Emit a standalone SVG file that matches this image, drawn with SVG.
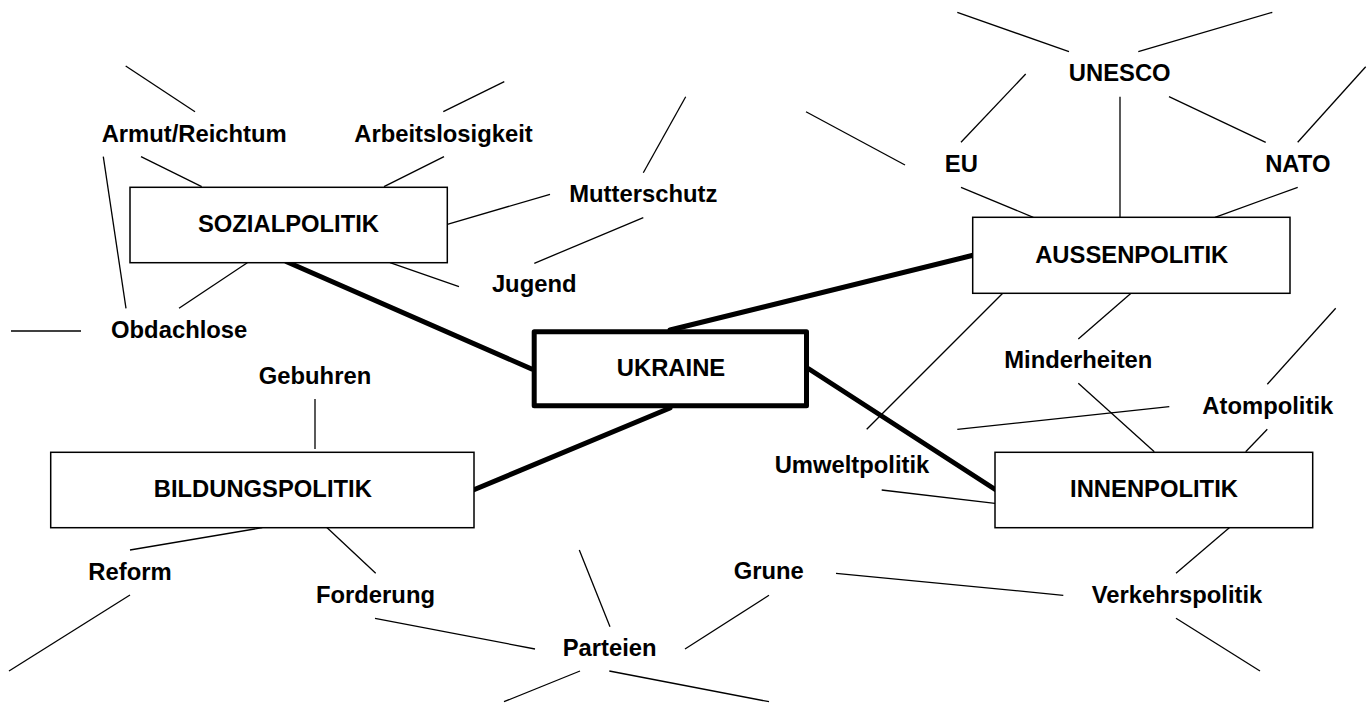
<svg xmlns="http://www.w3.org/2000/svg" width="1371" height="703" viewBox="0 0 1371 703">
  <style>
    .bg { fill: #ffffff; }
    .box { fill: #ffffff; stroke: #000000; stroke-width: 1.5; }
    .core { fill: #ffffff; stroke: #000000; stroke-width: 5; stroke-linejoin: round; }
    .lbl { font-family: "Liberation Sans", Arial, Helvetica, sans-serif; font-weight: bold; font-size: 23.8px; fill: #000000; text-anchor: middle; }
    .thin { stroke: #000000; stroke-width: 1.3; fill: none; }
    .thick { stroke: #000000; stroke-width: 5; stroke-linecap: round; fill: none; }
  </style>
  <rect class="bg" x="0" y="0" width="1371" height="703"/>

  <!-- connectors -->
  <g id="connectors">
    <!-- main spokes from the centre -->
    <line class="thick" x1="286.7" y1="261.7" x2="531.7" y2="369"/>
    <line class="thick" x1="670" y1="330" x2="974" y2="255"/>
    <line class="thick" x1="670" y1="408" x2="473.3" y2="490"/>
    <line class="thick" x1="809" y1="369" x2="996" y2="490"/>

    <!-- Sozialpolitik branch -->
    <line class="thin" x1="125.7" y1="66" x2="195" y2="111.7"/>
    <line class="thin" x1="141" y1="156.7" x2="201.7" y2="186.7"/>
    <line class="thin" x1="103.3" y1="156.7" x2="126" y2="308.3"/>
    <line class="thin" x1="443.3" y1="111.7" x2="504.3" y2="81.7"/>
    <line class="thin" x1="384" y1="186.7" x2="444" y2="156.7"/>
    <line class="thin" x1="247.3" y1="262.7" x2="179" y2="308.3"/>
    <line class="thin" x1="390" y1="262.7" x2="459" y2="286.7"/>
    <line class="thin" x1="447.3" y1="224.3" x2="550" y2="194.3"/>
    <line class="thin" x1="11" y1="331" x2="81" y2="331"/>
    <line class="thin" x1="643.3" y1="172.7" x2="685.7" y2="96.7"/>
    <line class="thin" x1="643.3" y1="217.7" x2="534.3" y2="263.3"/>

    <!-- Aussenpolitik branch -->
    <line class="thin" x1="806" y1="111.7" x2="905" y2="165"/>
    <line class="thin" x1="957.3" y1="12.3" x2="1069" y2="51.7"/>
    <line class="thin" x1="1138.3" y1="51.7" x2="1272.3" y2="12.3"/>
    <line class="thin" x1="1025.7" y1="74" x2="961" y2="142.3"/>
    <line class="thin" x1="1120" y1="96.7" x2="1120" y2="219"/>
    <line class="thin" x1="1169" y1="96.7" x2="1265.7" y2="142.3"/>
    <line class="thin" x1="1297.7" y1="142.3" x2="1365.7" y2="66.7"/>
    <line class="thin" x1="961" y1="187.3" x2="1033.3" y2="217.3"/>
    <line class="thin" x1="1297.7" y1="187.3" x2="1215" y2="217.3"/>
    <line class="thin" x1="1002.7" y1="293.3" x2="866.7" y2="429.3"/>
    <line class="thin" x1="1131" y1="293.3" x2="1078.3" y2="339"/>

    <!-- Innenpolitik branch -->
    <line class="thin" x1="1078.3" y1="383.3" x2="1154.3" y2="451.7"/>
    <line class="thin" x1="1267.3" y1="384.3" x2="1335.7" y2="308.3"/>
    <line class="thin" x1="1169.3" y1="406.7" x2="957.3" y2="429.3"/>
    <line class="thin" x1="1267.3" y1="429.3" x2="1245.7" y2="451.7"/>
    <line class="thin" x1="881.7" y1="490" x2="995" y2="503.3"/>
    <line class="thin" x1="1229.3" y1="527.7" x2="1176" y2="573.3"/>
    <line class="thin" x1="1176" y1="618.3" x2="1260" y2="671"/>
    <line class="thin" x1="836" y1="573.3" x2="1063.3" y2="595.3"/>

    <!-- Bildungspolitik branch -->
    <line class="thin" x1="315" y1="399" x2="315" y2="449"/>
    <line class="thin" x1="262.3" y1="527.7" x2="130" y2="550"/>
    <line class="thin" x1="130" y1="595" x2="9" y2="671"/>
    <line class="thin" x1="322.3" y1="523.3" x2="375.7" y2="573.3"/>
    <line class="thin" x1="375" y1="618.3" x2="535" y2="649"/>

    <!-- Parteien branch -->
    <line class="thin" x1="579.3" y1="550" x2="610" y2="626.7"/>
    <line class="thin" x1="769" y1="595.3" x2="685" y2="649"/>
    <line class="thin" x1="580" y1="671" x2="504" y2="701.7"/>
    <line class="thin" x1="609.3" y1="671" x2="769" y2="701.7"/>
  </g>

  <!-- boxed nodes -->
  <g id="ukraine">
    <rect class="core" x="534.2" y="331.8" width="272.3" height="74"/>
    <text class="lbl" x="671" y="376">UKRAINE</text>
  </g>
  <g id="sozialpolitik">
    <rect class="box" x="130" y="187.3" width="317.3" height="75.4"/>
    <text class="lbl" x="288.5" y="231.7">SOZIALPOLITIK</text>
  </g>
  <g id="aussenpolitik">
    <rect class="box" x="972.7" y="217.3" width="317.3" height="76"/>
    <text class="lbl" x="1131.7" y="262.7">AUSSENPOLITIK</text>
  </g>
  <g id="bildungspolitik">
    <rect class="box" x="50.7" y="452.3" width="423.3" height="75.4"/>
    <text class="lbl" x="262.8" y="496.7">BILDUNGSPOLITIK</text>
  </g>
  <g id="innenpolitik">
    <rect class="box" x="995" y="452.3" width="317.7" height="75.4"/>
    <text class="lbl" x="1154" y="496.7">INNENPOLITIK</text>
  </g>

  <!-- free-standing keywords -->
  <g id="armut"><text class="lbl" x="194.2" y="141.7">Armut/Reichtum</text></g>
  <g id="arbeitslosigkeit"><text class="lbl" x="443.5" y="141.7">Arbeitslosigkeit</text></g>
  <g id="mutterschutz"><text class="lbl" x="643.3" y="201.7">Mutterschutz</text></g>
  <g id="jugend"><text class="lbl" x="534.2" y="292.3">Jugend</text></g>
  <g id="obdachlose"><text class="lbl" x="179.2" y="338">Obdachlose</text></g>
  <g id="gebuhren"><text class="lbl" x="315" y="384">Gebuhren</text></g>
  <g id="reform"><text class="lbl" x="130" y="580">Reform</text></g>
  <g id="forderung"><text class="lbl" x="375.5" y="603.3">Forderung</text></g>
  <g id="parteien"><text class="lbl" x="609.7" y="656">Parteien</text></g>
  <g id="grune"><text class="lbl" x="768.8" y="579.3">Grune</text></g>
  <g id="umweltpolitik"><text class="lbl" x="852" y="473.3">Umweltpolitik</text></g>
  <g id="minderheiten"><text class="lbl" x="1078.3" y="367.7">Minderheiten</text></g>
  <g id="atompolitik"><text class="lbl" x="1267.8" y="414">Atompolitik</text></g>
  <g id="verkehrspolitik"><text class="lbl" x="1177" y="602.7">Verkehrspolitik</text></g>
  <g id="unesco"><text class="lbl" x="1119.7" y="80.7">UNESCO</text></g>
  <g id="eu"><text class="lbl" x="961.3" y="171.7">EU</text></g>
  <g id="nato"><text class="lbl" x="1297.8" y="171.7">NATO</text></g>
</svg>
